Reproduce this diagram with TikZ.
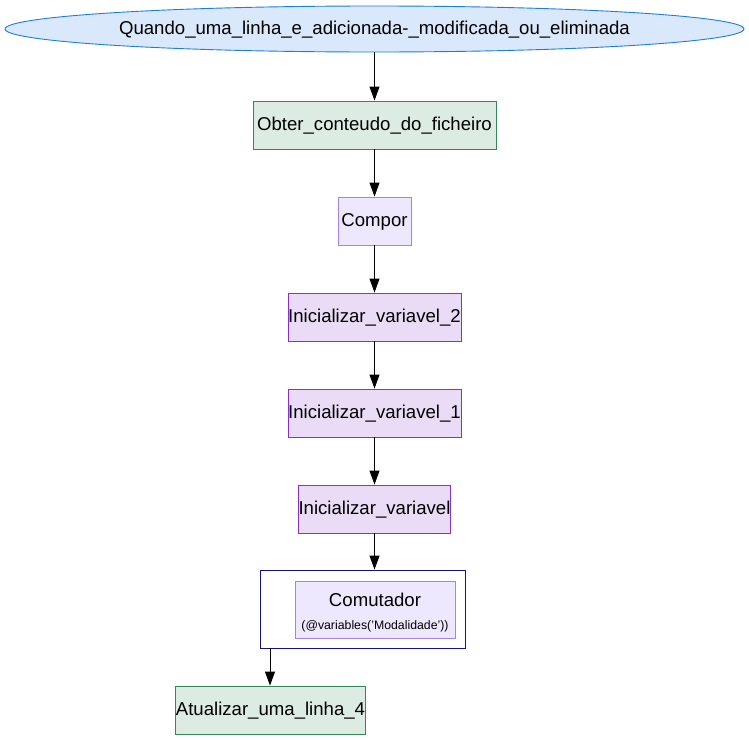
\documentclass[tikz,border=0pt]{standalone}
\usepackage{fontspec}
\setmainfont{Liberation Sans}
\usetikzlibrary{arrows.meta,shapes.geometric}
\definecolor{trigfill}{HTML}{DAE8FC}
\definecolor{trigline}{HTML}{1C7CE8}
\definecolor{actfill}{HTML}{DCECE2}
\definecolor{actline}{HTML}{2E8B57}
\definecolor{compfill}{HTML}{EEE8FF}
\definecolor{compline}{HTML}{9F80FF}
\definecolor{varfill}{HTML}{EADCF6}
\definecolor{varline}{HTML}{8A2BE2}
\definecolor{swline}{HTML}{1010A0}
\tikzset{
  x=1pt, y=-1pt,
  every node/.style={inner sep=0pt, font=\fontsize{18.6}{21}\selectfont},
  label text/.style={text height=15pt, text depth=4.3pt},
  trigger/.style={ellipse, label text, draw=trigline, fill=trigfill, line width=0.9pt},
  action/.style={rectangle, label text, draw=actline, fill=actfill, line width=0.9pt, minimum height=48pt},
  compose/.style={rectangle, label text, draw=compline, fill=compfill, line width=0.9pt, minimum height=48pt},
  initvar/.style={rectangle, label text, draw=varline, fill=varfill, line width=0.9pt, minimum height=48pt},
  switchbox/.style={rectangle, draw=swline, fill=white, line width=0.9pt},
  flow/.style={-{Triangle[length=14pt,width=10pt]}, line width=1pt, black},
}
\begin{document}
\begin{tikzpicture}
\useasboundingbox (0,0) rectangle (749,739);
\node[trigger, minimum width=739pt, minimum height=46pt] (trig) at (374.5,29) {Quando\_uma\_linha\_e\_adicionada-\_modificada\_ou\_eliminada};
\node[action, minimum width=243pt] (obter) at (374.5,125) {Obter\_conteudo\_do\_ficheiro};
\node[compose, minimum width=73pt] (compor) at (374.5,221) {Compor};
\node[initvar, minimum width=173pt] (iv2) at (374.5,317) {Inicializar\_variavel\_2};
\node[initvar, minimum width=173pt] (iv1) at (374.5,413) {Inicializar\_variavel\_1};
\node[initvar, minimum width=151pt] (iv0) at (374.5,509) {Inicializar\_variavel};
\node[switchbox, minimum width=205pt, minimum height=78pt] (sw) at (362.5,609) {};
\node[compose, minimum width=160pt, minimum height=57pt] (comut) at (375,609.5) {};
\node[label text] (comutT) at (375,601) {Comutador};
\node (comutE) at (375,626) {\fontsize{12.3}{14}\selectfont(@variables('Modalidade'))};
\node[action, minimum width=189pt] (atual) at (270.5,710) {Atualizar\_uma\_linha\_4};
\coordinate (swout) at (270,648);
\draw[flow] (trig) -- (obter);
\draw[flow] (obter) -- (compor);
\draw[flow] (compor) -- (iv2);
\draw[flow] (iv2) -- (iv1);
\draw[flow] (iv1) -- (iv0);
\draw[flow] (iv0.south) -- (iv0.south |- sw.north);
\draw[flow] (swout) -- (swout |- atual.north);
\end{tikzpicture}
\end{document}
